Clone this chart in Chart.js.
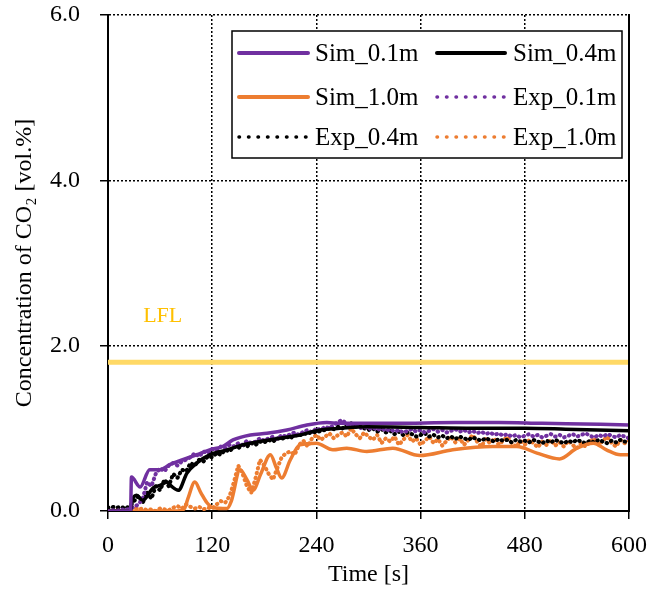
<!DOCTYPE html>
<html>
<head>
<meta charset="utf-8">
<script src="https://cdn.jsdelivr.net/npm/chart.js@4.4.0/dist/chart.umd.min.js"></script>
<style>
html,body{margin:0;padding:0;background:#fff;}
#c{display:block;}
</style>
</head>
<body>
<canvas id="c" width="669" height="592"></canvas>
<script>
// ---- data ----
const seriesNames = ["Sim_0.1m","Sim_0.4m","Sim_1.0m","Exp_0.1m","Exp_0.4m","Exp_1.0m"];
const xTicks = [0,120,240,360,480,600];
const yTicks = [0,2,4,6];
const lflValue = 1.8;
const lflLabel = "LFL";

const simTime01 = [0,20,26,27,37,48,60,71,86,102,117,132,144,164,183,206,229,252,267,290,330,400,450,500,567,600];
const sim01     = [0,0,0,0.41,0.29,0.50,0.50,0.56,0.62,0.68,0.74,0.78,0.86,0.92,0.94,0.98,1.04,1.07,1.06,1.06,1.06,1.07,1.07,1.06,1.05,1.04];

const simTime04 = [0,20,26,28,33,40,52,60,68,73,81,91,102,117,137,155,175,198,221,244,267,298,360,420,480,527,600];
const sim04     = [0,0,0,0.13,0.19,0.13,0.28,0.31,0.35,0.30,0.25,0.46,0.58,0.68,0.74,0.80,0.84,0.88,0.92,0.98,1.00,1.02,1.01,1.00,1.00,0.99,0.97];

const simTime10 = [0,80,88,92,100,107,114,121,137,142,152,160,167,176,187,194,200,210,221,240,259,275,298,328,359,397,443,471,494,520,540,559,574,590,600];
const sim10     = [0,0,0.03,0.15,0.35,0.22,0.10,0.04,0.03,0.12,0.50,0.38,0.25,0.45,0.68,0.52,0.40,0.62,0.80,0.82,0.74,0.76,0.72,0.76,0.67,0.74,0.78,0.78,0.70,0.63,0.76,0.82,0.74,0.68,0.68];

const expTime = [0,5,10,15,20,25,30,35,40,45,50,55,60,65,70,75,80,85,90,95,100,105,110,115,120,125,130,135,140,145,150,155,160,165,170,175,180,185,190,195,200,205,210,215,220,225,230,235,240,245,250,255,260,265,270,275,280,285,290,295,300,305,310,315,320,325,330,335,340,345,350,355,360,365,370,375,380,385,390,395,400,405,410,415,420,425,430,435,440,445,450,455,460,465,470,475,480,485,490,495,500,505,510,515,520,525,530,535,540,545,550,555,560,565,570,575,580,585,590,595,600];

const exp01 = [0.00,0.01,0.00,0.02,0.01,0.03,0.05,0.08,0.15,0.35,0.30,0.45,0.52,0.48,0.55,0.58,0.55,0.60,0.62,0.65,0.70,0.66,0.72,0.70,0.75,0.73,0.78,0.76,0.80,0.78,0.82,0.80,0.85,0.82,0.84,0.88,0.85,0.88,0.90,0.87,0.92,0.90,0.93,0.95,0.92,0.96,0.98,0.95,1.00,0.98,1.02,1.00,1.04,1.08,1.10,1.05,1.02,1.04,1.00,1.02,0.99,1.01,0.98,1.00,0.97,0.99,0.96,0.98,0.95,0.97,0.99,0.96,0.98,0.95,0.97,0.99,0.96,0.98,0.95,0.97,0.99,0.96,0.98,0.95,0.97,0.94,0.96,0.93,0.95,0.92,0.94,0.91,0.93,0.90,0.92,0.89,0.91,0.93,0.90,0.92,0.89,0.91,0.93,0.90,0.92,0.89,0.91,0.93,0.90,0.92,0.94,0.91,0.89,0.92,0.90,0.93,0.91,0.89,0.92,0.90,0.88];

const exp04 = [0.04,0.05,0.04,0.05,0.03,0.06,0.12,0.18,0.10,0.22,0.15,0.30,0.25,0.38,0.30,0.45,0.40,0.50,0.48,0.58,0.55,0.62,0.60,0.66,0.65,0.70,0.68,0.74,0.72,0.78,0.76,0.80,0.78,0.82,0.80,0.84,0.83,0.86,0.84,0.88,0.87,0.90,0.88,0.92,0.91,0.94,0.93,0.96,0.95,0.97,0.98,1.00,0.99,1.02,1.00,1.04,1.06,1.02,1.03,1.00,0.98,1.00,0.96,0.99,0.95,0.97,0.93,0.96,0.92,0.95,0.93,0.90,0.92,0.94,0.90,0.92,0.89,0.91,0.88,0.90,0.87,0.90,0.88,0.86,0.89,0.87,0.85,0.88,0.86,0.84,0.87,0.85,0.86,0.83,0.86,0.84,0.85,0.83,0.86,0.84,0.82,0.85,0.83,0.86,0.84,0.82,0.85,0.83,0.86,0.84,0.82,0.85,0.83,0.86,0.84,0.82,0.85,0.83,0.86,0.84,0.83];

const exp10 = [0.01,0.00,0.02,0.01,0.00,0.02,0.05,0.02,0.03,0.01,0.02,0.00,0.03,0.02,0.01,0.04,0.06,0.03,0.08,0.05,0.03,0.05,0.02,0.04,0.03,0.08,0.12,0.10,0.18,0.35,0.55,0.45,0.30,0.22,0.40,0.62,0.55,0.45,0.38,0.52,0.65,0.70,0.72,0.68,0.80,0.85,0.78,0.88,0.92,0.86,0.90,0.94,0.88,0.92,0.95,0.90,1.00,0.93,0.88,0.95,0.90,0.86,0.92,0.82,0.88,0.84,0.90,0.80,0.86,0.92,0.84,0.88,0.80,0.85,0.90,0.82,0.87,0.79,0.85,0.90,0.83,0.88,0.80,0.86,0.92,0.84,0.78,0.87,0.82,0.88,0.80,0.85,0.90,0.82,0.78,0.85,0.80,0.86,0.82,0.77,0.84,0.80,0.86,0.79,0.83,0.78,0.85,0.80,0.76,0.82,0.78,0.84,0.88,0.80,0.85,0.90,0.82,0.78,0.86,0.82,0.85];

// ---- build ----
const PURPLE = '#7030A0', ORANGE = '#ED7D31', BLACK = '#000000', YELLOW = '#FFD966', YELLOW_TXT = '#FFC000';
const FONT = "'Liberation Serif', 'Times New Roman', serif";
const pts = (t, v) => t.map((x, i) => ({x: x, y: v[i]}));

const simStyle = c => ({borderColor: c, backgroundColor: c, borderWidth: 3.5, pointRadius: 0, fill: false, cubicInterpolationMode: 'monotone', borderCapStyle: 'round', borderJoinStyle: 'round'});
const expStyle = c => ({borderColor: c, backgroundColor: c, borderWidth: 4, pointRadius: 0, fill: false, tension: 0, borderDash: [0.5, 4.5], borderCapStyle: 'round', borderJoinStyle: 'round'});

const datasets = [
  Object.assign({label: seriesNames[0], data: pts(simTime01, sim01)}, simStyle(PURPLE)),
  Object.assign({label: seriesNames[1], data: pts(simTime04, sim04)}, simStyle(BLACK)),
  Object.assign({label: seriesNames[2], data: pts(simTime10, sim10)}, simStyle(ORANGE)),
  Object.assign({label: seriesNames[3], data: pts(expTime, exp01)}, expStyle(PURPLE)),
  Object.assign({label: seriesNames[4], data: pts(expTime, exp04)}, expStyle(BLACK)),
  Object.assign({label: seriesNames[5], data: pts(expTime, exp10)}, expStyle(ORANGE)),
  {label: lflLabel, data: [{x: xTicks[0], y: lflValue}, {x: xTicks[xTicks.length-1], y: lflValue}], borderColor: YELLOW, borderWidth: 5, pointRadius: 0, fill: false}
];

const extras = {
  id: 'extras',
  afterDatasetsDraw(chart) {
    const ctx = chart.ctx, a = chart.chartArea, xs = chart.scales.x, ys = chart.scales.y;
    ctx.save();
    // right border
    ctx.strokeStyle = '#000'; ctx.lineWidth = 2; ctx.setLineDash([]);
    ctx.beginPath(); ctx.moveTo(a.right, a.top - 1); ctx.lineTo(a.right, a.bottom + 1); ctx.stroke();
    // LFL label
    ctx.fillStyle = YELLOW_TXT; ctx.font = "22px " + FONT; ctx.textAlign = 'center'; ctx.textBaseline = 'middle';
    ctx.fillText(lflLabel, xs.getPixelForValue(63), ys.getPixelForValue(2.36));
    // legend
    const bx = 232, by = 31, bw = 390, bh = 127;
    ctx.fillStyle = '#fff'; ctx.fillRect(bx, by, bw, bh);
    ctx.strokeStyle = '#000'; ctx.lineWidth = 1.5; ctx.strokeRect(bx, by, bw, bh);
    const cols = [{l0: 239, l1: 308, tx: 315}, {l0: 437, l1: 505, tx: 513}];
    const rows = [53, 97, 137];
    ctx.font = "25px " + FONT; ctx.textAlign = 'left'; ctx.textBaseline = 'middle';
    for (let i = 0; i < 6; i++) {
      const ds = chart.data.datasets[i];
      const c = cols[i % 2], y = rows[Math.floor(i / 2)];
      ctx.save();
      ctx.strokeStyle = ds.borderColor; ctx.lineWidth = ds.borderDash ? 3.5 : 4;
      ctx.lineCap = 'round';
      ctx.setLineDash(ds.borderDash ? [0.5, 9] : []);
      ctx.beginPath(); ctx.moveTo(c.l0, y); ctx.lineTo(c.l1, y); ctx.stroke();
      ctx.restore();
      ctx.fillStyle = '#000';
      ctx.fillText(ds.label, c.tx, y + 1);
    }
    ctx.restore();
  }
};

new Chart(document.getElementById('c'), {
  type: 'line',
  data: {datasets: datasets},
  plugins: [extras],
  options: {
    responsive: false,
    animation: false,
    devicePixelRatio: 1,
    layout: {padding: {left: 0, top: 15, right: 40, bottom: 0}},
    plugins: {legend: {display: false}, tooltip: {enabled: false}},
    scales: {
      x: {
        type: 'linear', min: 0, max: 600,
        afterBuildTicks: s => { s.ticks = xTicks.map(v => ({value: v})); },
        afterFit: s => { s.height = 81; s.paddingLeft = 0; s.paddingRight = 0; },
        ticks: {color: '#000', font: {family: FONT, size: 24}, padding: 12, maxRotation: 0},
        grid: {color: c => (c.tick && (c.tick.value === 0 || c.tick.value === 600)) ? 'rgba(0,0,0,0)' : '#000', lineWidth: 1.5, tickColor: '#000', tickWidth: 1.5, tickLength: 8},
        border: {display: true, color: '#000', width: 2, dash: [2, 2]},
        title: {display: true, text: 'Time [s]', color: '#000', font: {family: FONT, size: 24}, padding: {top: 0, bottom: 3}}
      },
      y: {
        min: 0, max: 6,
        afterBuildTicks: s => { s.ticks = yTicks.map(v => ({value: v})); },
        afterFit: s => { s.width = 108; s.paddingTop = 0; s.paddingBottom = 0; },
        ticks: {color: '#000', font: {family: FONT, size: 24}, padding: 20, callback: v => Number(v).toFixed(1)},
        grid: {color: c => (c.tick && c.tick.value === 0) ? 'rgba(0,0,0,0)' : '#000', lineWidth: 1.5, tickColor: '#000', tickWidth: 1.5, tickLength: 8},
        border: {display: true, color: '#000', width: 2, dash: [2, 2]},
        title: {display: true, text: 'Concentration of CO\u2082 [vol.%]', color: '#000', font: {family: FONT, size: 24}, padding: {top: 10, bottom: 0}}
      }
    }
  }
});
</script>
</body>
</html>
